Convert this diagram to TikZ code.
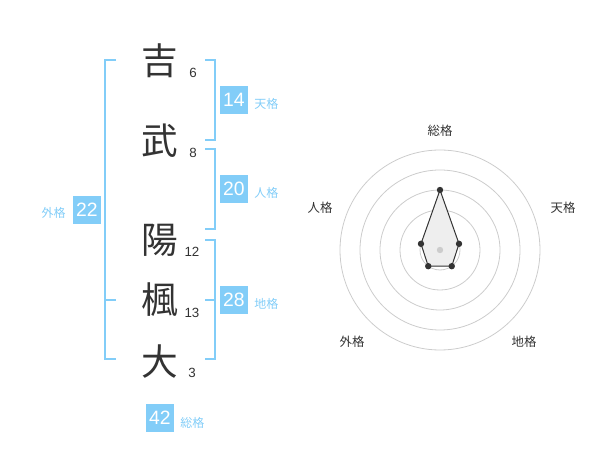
\documentclass[tikz,border=0pt]{standalone}
\usepackage{fontspec}
\setmainfont{Liberation Sans}
\newfontfamily\cjk{Noto Sans CJK JP}
\usetikzlibrary{calc}
\definecolor{kblue}{HTML}{82CDF8}
\definecolor{kdark}{HTML}{333333}
\definecolor{kgrid}{HTML}{CCCCCC}
\definecolor{kfill}{HTML}{EEEEEE}
\tikzset{
  kanji/.style={font=\cjk\fontsize{27.5}{27.5}\selectfont, text=kdark, inner sep=0pt},
  stroke/.style={font=\fontsize{10}{10}\selectfont, text=kdark, inner sep=0pt},
  numbox/.style={fill=kblue, text=white, minimum width=21pt, minimum height=21pt, inner sep=0pt, font=\fontsize{14.5}{14.5}\selectfont},
  kaku/.style={font=\cjk\fontsize{9}{9}\selectfont, text=kblue, inner sep=0pt},
  bracket/.style={draw=kblue, line width=1.5pt},
  axislabel/.style={font=\cjk\fontsize{9.3}{9.3}\selectfont, text=kdark, inner sep=0pt},
  ring/.style={draw=kgrid, line width=0.6pt},
  dot/.style={circle, fill=kdark, inner sep=0pt, minimum size=4.8pt},
}
\begin{document}
\begin{tikzpicture}[x=0.75pt, y=-0.75pt]
\useasboundingbox (0,0) rectangle (600,470);
% characters
\node[kanji] (c1) at (160,61) {吉};
\node[kanji] (c2) at (160,141) {武};
\node[kanji] (c3) at (160,240) {陽};
\node[kanji] (c4) at (160,300) {楓};
\node[kanji] (c5) at (160,362) {大};
\node[stroke] (n1) at (193,73) {6};
\node[stroke] (n2) at (193,153) {8};
\node[stroke] (n3) at (192,252) {12};
\node[stroke] (n4) at (192,313) {13};
\node[stroke] (n5) at (192,373) {3};
% brackets
\draw[bracket] (116,60) -- (105,60) -- (105,359) -- (116,359);
\draw[bracket] (105,300) -- (116,300);
\draw[bracket] (205,60) -- (215,60) -- (215,140) -- (205,140);
\draw[bracket] (205,149) -- (215,149) -- (215,229) -- (205,229);
\draw[bracket] (205,240) -- (215,240) -- (215,359) -- (205,359);
\draw[bracket] (205,300) -- (215,300);
% boxes
\node[numbox] (b14) at (234,100) {14};
\node[kaku, anchor=west] (l14) at (254,104) {天格};
\node[numbox] (b20) at (234,189) {20};
\node[kaku, anchor=west] (l20) at (254,193) {人格};
\node[numbox] (b28) at (234,300) {28};
\node[kaku, anchor=west] (l28) at (254,304) {地格};
\node[numbox] (b22) at (87,210) {22};
\node[kaku, anchor=east] (l22) at (66,213) {外格};
\node[numbox] (b42) at (160,418) {42};
\node[kaku, anchor=west] (l42) at (180,423) {総格};
% radar
\coordinate (c) at (440,250);
\foreach \r in {15,30,45,60,75} \draw[ring] (c) circle[radius=\r pt];
\coordinate (p1) at ($(c)+(-90:60)$);
\coordinate (p2) at ($(c)+(-18:20)$);
\coordinate (p3) at ($(c)+(54:20)$);
\coordinate (p4) at ($(c)+(126:20)$);
\coordinate (p5) at ($(c)+(198:20)$);
\draw[kdark, fill=kfill, line width=0.75pt] (p1) -- (p2) -- (p3) -- (p4) -- (p5) -- cycle;
\foreach \p in {p1,p2,p3,p4,p5} \node[dot] at (\p) {};
\node[circle, fill=kgrid, inner sep=0pt, minimum size=4.8pt] (cd) at (c) {};
\node[axislabel] (a1) at (440,131) {総格};
\node[axislabel] (a2) at (563,208) {天格};
\node[axislabel] (a3) at (524,342) {地格};
\node[axislabel] (a4) at (352,342) {外格};
\node[axislabel] (a5) at (320,208) {人格};
\end{tikzpicture}
\end{document}
